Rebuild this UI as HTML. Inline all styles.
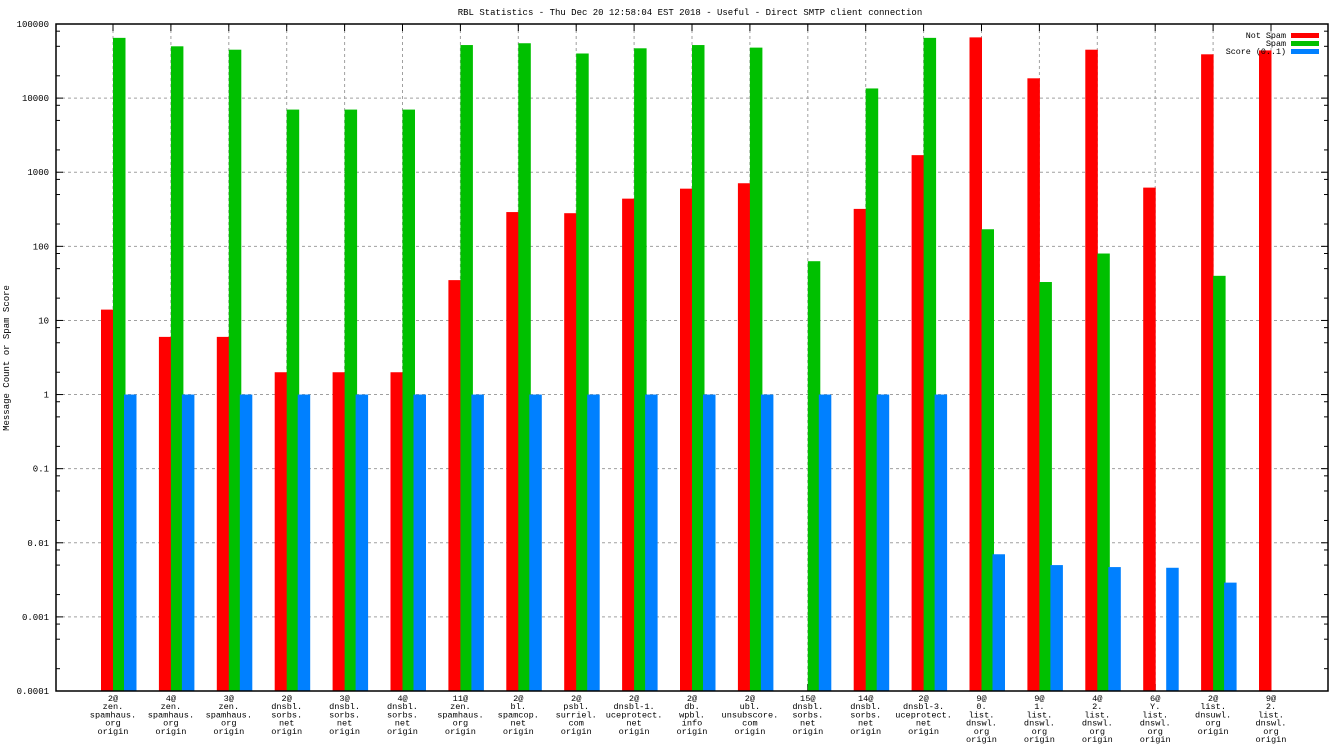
<!DOCTYPE html>
<html><head><meta charset="utf-8"><style>
html,body{margin:0;padding:0;background:#fff;}
svg{display:block;font-family:"Liberation Mono","DejaVu Sans Mono",monospace;}
</style></head><body>
<svg id="chart" width="1344" height="756" xmlns="http://www.w3.org/2000/svg"></svg>
<script>
const categories = [
 ["2@","zen.","spamhaus.","org","origin"],
 ["4@","zen.","spamhaus.","org","origin"],
 ["3@","zen.","spamhaus.","org","origin"],
 ["2@","dnsbl.","sorbs.","net","origin"],
 ["3@","dnsbl.","sorbs.","net","origin"],
 ["4@","dnsbl.","sorbs.","net","origin"],
 ["11@","zen.","spamhaus.","org","origin"],
 ["2@","bl.","spamcop.","net","origin"],
 ["2@","psbl.","surriel.","com","origin"],
 ["2@","dnsbl-1.","uceprotect.","net","origin"],
 ["2@","db.","wpbl.","info","origin"],
 ["2@","ubl.","unsubscore.","com","origin"],
 ["15@","dnsbl.","sorbs.","net","origin"],
 ["14@","dnsbl.","sorbs.","net","origin"],
 ["2@","dnsbl-3.","uceprotect.","net","origin"],
 ["9@","0.","list.","dnswl.","org","origin"],
 ["9@","1.","list.","dnswl.","org","origin"],
 ["4@","2.","list.","dnswl.","org","origin"],
 ["6@","Y.","list.","dnswl.","org","origin"],
 ["2@","list.","dnsuwl.","org","origin"],
 ["9@","2.","list.","dnswl.","org","origin"]
];
const notSpam = [14,6,6,2,2,2,35,290,280,440,600,710,null,320,1700,66000,18500,45000,620,39000,44000];
const spam = [65000,50000,45000,7000,7000,7000,52000,55000,40000,47000,52000,48000,63,13500,65000,170,33,80,null,40,null];
const score = [1,1,1,1,1,1,1,1,1,1,1,1,1,1,1,0.007,0.005,0.0047,0.0046,0.0029,null];
const yTicks = [0.0001,0.001,0.01,0.1,1,10,100,1000,10000,100000];
const yTickLabels = ["0.0001","0.001","0.01","0.1","1","10","100","1000","10000","100000"];

const svg = document.getElementById('chart');
const NS = "http://www.w3.org/2000/svg";
const L=56, R=1328, T=24, B=691;
function y(v){ return B - (Math.log10(v)+4)/9*(B-T); }
function xc(i){ return 113 + i*(1271-113)/(categories.length-1); }
function mk(tag, attrs, parent){ const e=document.createElementNS(NS,tag); for(const k in attrs) e.setAttribute(k,attrs[k]); (parent||svg).appendChild(e); return e; }

let t = mk('text',{x:690,y:15,'font-size':9,'text-anchor':'middle'});


t.textContent = "RBL Statistics - Thu Dec 20 12:58:04 EST 2018 - Useful - Direct SMTP client connection";

t = mk('text',{x:0,y:0,'font-size':9,'text-anchor':'middle',transform:'translate(9,358) rotate(-90)'});


t.textContent = "Message Count or Spam Score";

yTicks.forEach((v,k)=>{
  const yy=y(v);
  if(k>0 && k<yTicks.length-1){
    const g=mk('line',{x1:L,x2:R,y1:yy,y2:yy,stroke:'#a0a0a0','stroke-dasharray':'3,3','stroke-width':1});
    
    
  }
  mk('line',{x1:L,x2:L+7,y1:yy,y2:yy,stroke:'#000'});
  mk('line',{x1:R-7,x2:R,y1:yy,y2:yy,stroke:'#000'});
  if(k<yTicks.length-1){
    [2,5,8].forEach(m=>{ const my=y(v*m); mk('line',{x1:L,x2:L+4,y1:my,y2:my,stroke:'#000'}); mk('line',{x1:R-4,x2:R,y1:my,y2:my,stroke:'#000'}); });
  }
  const lb=mk('text',{x:L-7,y:yy+3,'font-size':9,'text-anchor':'end'});
  
  
  lb.textContent=yTickLabels[k];
});

categories.forEach((c,i)=>{
  const cx=xc(i);
  const g=mk('line',{x1:cx,x2:cx,y1:T,y2:B,stroke:'#a0a0a0','stroke-dasharray':'3,3'});
  
  
  mk('line',{x1:cx,x2:cx,y1:T,y2:T+7,stroke:'#000'});
  mk('line',{x1:cx,x2:cx,y1:B-7,y2:B,stroke:'#000'});
  const tx=mk('text',{x:cx,y:701,'font-size':8.6,'text-anchor':'middle'});
  
  
  c.forEach((line,j)=>{ const s=mk('tspan',{x:cx,y:701+j*8.2},tx); s.textContent=line; });
});

const series=[[notSpam,'#ff0000',-12,'not-spam-bar'],[spam,'#00c000',0,'spam-bar'],[score,'#0080ff',11,'score-bar']];
series.forEach(([arr,col,off,name])=>{
  arr.forEach((v,i)=>{
    if(v==null) return;
    const top=y(v);
    const r=mk('rect',{x:xc(i)+off,y:top,width:12.5,height:B-top,fill:col});
    
    
  });
});

const fr=mk('rect',{x:L,y:T,width:R-L,height:B-T,fill:'none',stroke:'#000','stroke-width':1.5});



const leg=mk('g',{});


[["Not Spam",'#ff0000'],["Spam",'#00c000'],["Score (0..1)",'#0080ff']].forEach(([n,c],k)=>{
  const e=mk('g',{},leg);
  
  
  const tt=mk('text',{x:1286,y:38+k*8,'font-size':8.4,'text-anchor':'end'},e); tt.textContent=n;
  mk('rect',{x:1291,y:33+k*8,width:28,height:5,fill:c},e);
});
</script>
</body></html>
